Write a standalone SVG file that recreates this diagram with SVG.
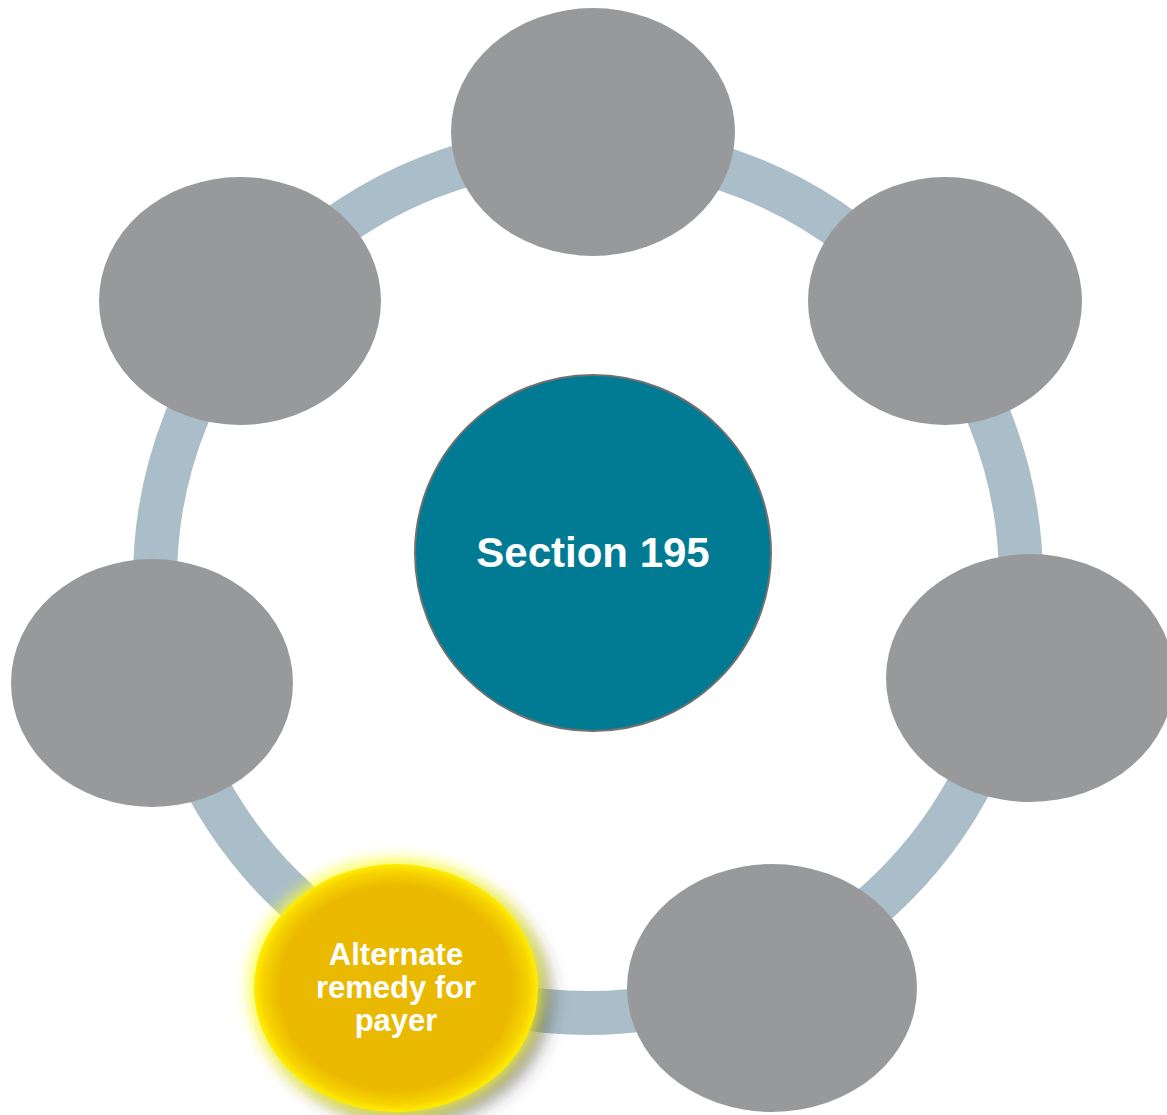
<svg xmlns="http://www.w3.org/2000/svg" width="1167" height="1115" viewBox="0 0 1167 1115">
<style>
.node{fill:#98999b}
.lbl{font-family:"Liberation Sans",Arial,sans-serif;font-weight:bold;fill:#ffffff;text-anchor:middle}
</style>
<defs>
<radialGradient id="yg" cx="0.5" cy="0.5" r="0.5">
<stop offset="0" stop-color="#e9b800"/>
<stop offset="0.82" stop-color="#eab900"/>
<stop offset="0.94" stop-color="#f7d400"/>
<stop offset="1" stop-color="#ffee00"/>
</radialGradient>
<filter id="shadow" x="-30%" y="-30%" width="160%" height="160%">
<feGaussianBlur in="SourceAlpha" stdDeviation="9"/>
<feOffset dx="12" dy="12" result="b"/>
<feFlood flood-color="#3a3a3a" flood-opacity="0.55"/>
<feComposite in2="b" operator="in"/>
</filter>
<filter id="glow" x="-30%" y="-30%" width="160%" height="160%">
<feGaussianBlur stdDeviation="7"/>
</filter>
</defs>
<rect width="1167" height="1115" fill="#ffffff"/>
<g id="connectors">
<circle cx="588" cy="580" r="433" fill="none" stroke="#a9bec8" stroke-width="44"/>
</g>
<g id="center">
<circle cx="593" cy="553" r="178" fill="#007b93" stroke="#707070" stroke-width="2"/>
<text class="lbl" x="593" y="567" font-size="42">Section 195</text>
</g>
<g id="node-top"><ellipse class="node" cx="593" cy="132" rx="142" ry="124"/></g>
<g id="node-upper-left"><ellipse class="node" cx="240" cy="301" rx="141" ry="124"/></g>
<g id="node-upper-right"><ellipse class="node" cx="945" cy="301" rx="137" ry="124"/></g>
<g id="node-left"><ellipse class="node" cx="152" cy="683" rx="141" ry="124"/></g>
<g id="node-right"><ellipse class="node" cx="1030" cy="678" rx="144" ry="124"/></g>
<g id="node-bottom-right"><ellipse class="node" cx="772" cy="988" rx="145" ry="124"/></g>
<g id="node-yellow">
<ellipse cx="396" cy="988" rx="142" ry="124" fill="#000" filter="url(#shadow)"/>
<ellipse cx="396" cy="988" rx="148" ry="130" fill="#ffff30" opacity="0.75" filter="url(#glow)"/>
<ellipse cx="396" cy="988" rx="142" ry="124" fill="url(#yg)"/>
<text class="lbl" font-size="31"><tspan x="396" y="965">Alternate</tspan><tspan x="396" y="998">remedy for</tspan><tspan x="396" y="1031">payer</tspan></text>
</g>
</svg>
